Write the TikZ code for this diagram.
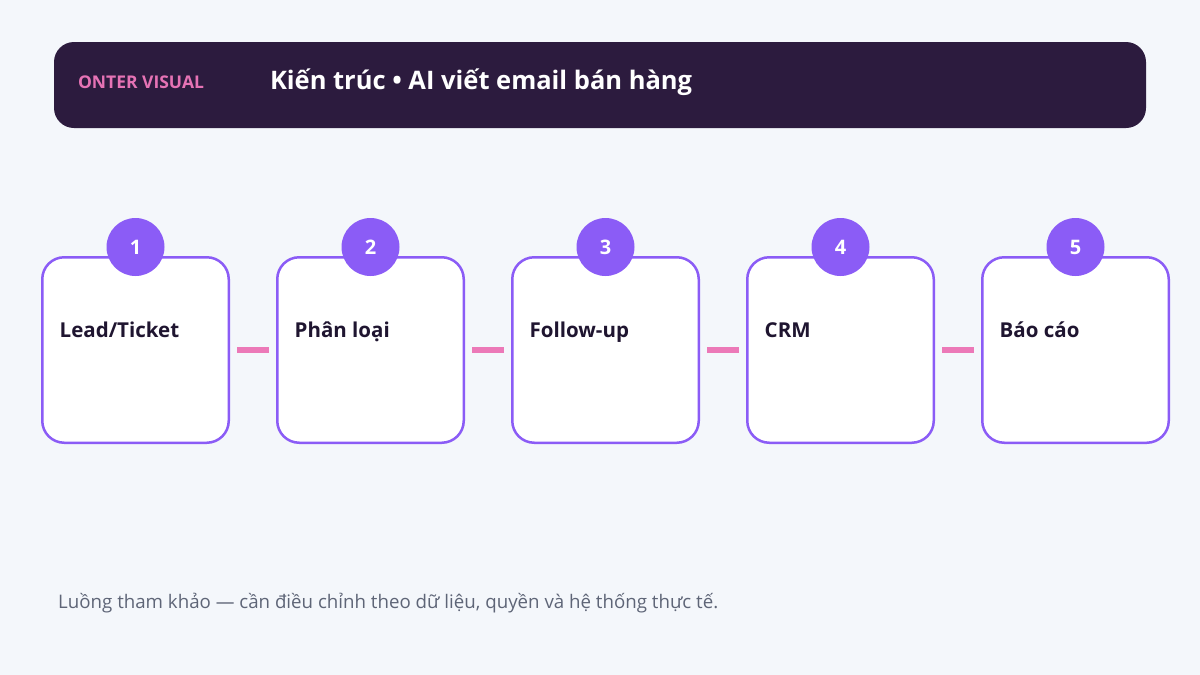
\documentclass[tikz,border=0pt]{standalone}
\usepackage{fontspec}
\setmainfont{Open Sans}
\usetikzlibrary{positioning,calc}
\usepackage{xcolor}
\newcommand{\NSteps}{5}
\newcommand{\StepPitch}{235}
\newcommand{\XFirst}{135.5}
\newcommand{\YStep}{350}
\newcommand{\BoxW}{186.5pt}
\newcommand{\BoxH}{185.5pt}
\definecolor{pageBg}{HTML}{F4F7FB}
\definecolor{headFill}{HTML}{2C1B3E}
\definecolor{brandPink}{HTML}{E673B5}
\definecolor{stepStroke}{HTML}{8B5CF6}
\definecolor{badgeFill}{HTML}{8B5CF6}
\definecolor{linkPink}{HTML}{EC79B8}
\definecolor{labelInk}{HTML}{1F1530}
\definecolor{noteInk}{HTML}{5E6577}
\newcommand{\PlaceStep}[3]{%
  % #1=index  #2=number shown  #3=label
  \pgfmathsetmacro{\xx}{\XFirst+(#1-1)*\StepPitch}%
  \node[stepbox] (S#1) at (\xx,\YStep) {};
  \node[badge] (B#1) at ($(S#1.north)+(0,-9)$) {#2};
  \node[steplbl] (L#1) at ($(S#1.west)+(18.5,-13)$) {#3};
}

\begin{document}
\begin{tikzpicture}[
  x=1pt, y=-1pt,
  stepbox/.style = {draw=stepStroke, line width=2.5pt, fill=white,
                    rounded corners=22pt, minimum width=\BoxW,
                    minimum height=\BoxH, inner sep=0pt},
  badge/.style   = {circle, fill=badgeFill, minimum size=58pt, inner sep=0pt,
                    text=white, font=\bfseries\fontsize{20}{24}\selectfont},
  steplbl/.style = {anchor=base west, inner sep=0pt, text=labelInk,
                    font=\bfseries\fontsize{20.5}{24}\selectfont},
  link/.style    = {linkPink, line width=6.5pt, shorten <=7pt, shorten >=7pt},
  brand/.style   = {anchor=base west, inner sep=0pt, text=brandPink,
                    font=\bfseries\fontsize{17.5}{21}\selectfont},
  title/.style   = {anchor=base west, inner sep=0pt, text=white,
                    font=\bfseries\fontsize{25.5}{30}\selectfont},
  note/.style    = {anchor=base west, inner sep=0pt, text=noteInk,
                    font=\fontsize{18.7}{22}\selectfont},
]

% ----------------------------------------------------------------
% Page
% ----------------------------------------------------------------
\fill[pageBg] (0,0) rectangle (1200,675);
\useasboundingbox (0,0) rectangle (1200,675);

% ----------------------------------------------------------------
% Header bar
% ----------------------------------------------------------------
\node[fill=headFill, rounded corners=20pt, minimum width=1092pt,
      minimum height=86pt, inner sep=0pt] (head) at (600,85) {};
\node[brand] (brandtxt) at ($(head.west)+(24,3)$) {ONTER VISUAL};
\node[title] (titletxt) at ($(head.west)+(216,4)$)
  {Kiến trúc • AI viết email bán hàng};

% ----------------------------------------------------------------
% Steps
% ----------------------------------------------------------------
\PlaceStep{1}{1}{Lead/Ticket}
\PlaceStep{2}{2}{Phân loại}
\PlaceStep{3}{3}{Follow-up}
\PlaceStep{4}{4}{CRM}
\PlaceStep{5}{5}{Báo cáo}

% Links between steps
\foreach \i [evaluate=\i as \j using int(\i+1)] in {1,...,4}{
  \draw[link] (S\i.east) -- (S\j.west);
}

% ----------------------------------------------------------------
% Footnote
% ----------------------------------------------------------------
\node[note] (foot) at (58,608)
  {Luồng tham khảo — cần điều chỉnh theo dữ liệu, quyền và hệ thống thực tế.};

\end{tikzpicture}
\end{document}
